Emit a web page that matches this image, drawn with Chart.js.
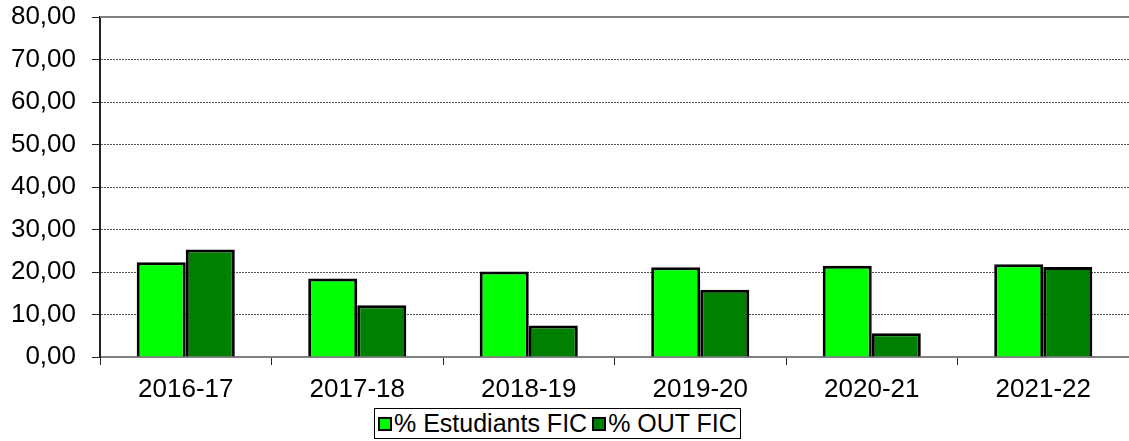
<!DOCTYPE html>
<html lang="ca">
<head>
<meta charset="UTF-8">
<title>% Estudiants FIC / % OUT FIC</title>
<script src="https://cdn.jsdelivr.net/npm/chart.js"></script>
<style>
  body { margin: 0; background: #fff; font-family: "Liberation Sans", Arial, sans-serif; }
  .contenidor { position: relative; width: 1129px; height: 441px; }
  .llegenda {
    position: absolute; left: 374px; top: 408px; height: 29px;
    border: 1px solid #000; display: flex; align-items: center;
    padding: 0 3px; font-size: 25px; white-space: nowrap; background: #fff;
  }
  .item { display: flex; align-items: center; margin-right: 5px; }
  .item:last-child { margin-right: 0; }
  .marca { width: 14px; height: 14px; border: 2px solid #000; box-sizing: border-box; margin-right: 2px; }
</style>
</head>
<body>
<div class="contenidor">
  <canvas id="grafic"></canvas>
  <div class="llegenda" id="llegenda"></div>
</div>
<script>
const cursos = ['2016-17', '2017-18', '2018-19', '2019-20', '2020-21', '2021-22'];
const estudiantsFIC = [22.3, 18.5, 20.1, 21.1, 21.5, 21.8];
const outFIC = [25.3, 12.2, 7.4, 15.8, 5.6, 21.2];
const series = [
  { nom: '% Estudiants FIC', valors: estudiantsFIC, color: '#00ff00' },
  { nom: '% OUT FIC', valors: outFIC, color: '#008000' }
];

const font = { family: '"Liberation Sans", Arial, sans-serif', size: 26 };

// linia grisa a dalt de l'area
const marcSuperior = {
  id: 'marcSuperior',
  afterDraw(chart) {
    const { ctx, chartArea } = chart;
    ctx.save();
    ctx.strokeStyle = '#808080';
    ctx.lineWidth = 2;
    ctx.beginPath();
    ctx.moveTo(chartArea.left, chartArea.top);
    ctx.lineTo(chartArea.right, chartArea.top);
    ctx.stroke();
    ctx.restore();
  }
};

new Chart(document.getElementById('grafic'), {
  type: 'bar',
  data: {
    labels: cursos,
    datasets: series.map(s => ({
      label: s.nom,
      data: s.valors,
      backgroundColor: s.color,
      borderColor: '#000',
      borderWidth: 3,
      categoryPercentage: 0.572,
      barPercentage: 1
    }))
  },
  options: {
    responsive: true,
    maintainAspectRatio: false,
    animation: false,
    layout: { padding: { top: 17, right: 0, bottom: 40, left: 0 } },
    plugins: { legend: { display: false }, tooltip: { enabled: false } },
    scales: {
      x: {
        grid: { offset: true, drawOnChartArea: false, tickLength: 8, tickColor: '#222' },
        border: { color: '#808080', width: 2 },
        ticks: { color: '#000', font: font, padding: 9, maxRotation: 0 },
        afterFit(scale) { scale.height = 44; scale.paddingLeft = 0; scale.paddingRight = 0; }
      },
      y: {
        min: 0,
        max: 80,
        ticks: {
          stepSize: 10,
          color: '#000',
          font: font,
          padding: 16,
          callback: v => v.toFixed(2).replace('.', ',')
        },
        grid: { color: '#555', lineWidth: 1, tickLength: 8, tickColor: '#222' },
        border: { color: '#222', width: 2, dash: [2, 1] },
        afterFit(scale) { scale.width = 100; scale.paddingTop = 0; scale.paddingBottom = 0; }
      }
    }
  },
  plugins: [marcSuperior]
});

const llegenda = document.getElementById('llegenda');
series.forEach(s => {
  const item = document.createElement('span');
  item.className = 'item';
  item.innerHTML = '<span class="marca" style="background:' + s.color + '"></span>' + s.nom;
  llegenda.appendChild(item);
});
</script>
</body>
</html>
